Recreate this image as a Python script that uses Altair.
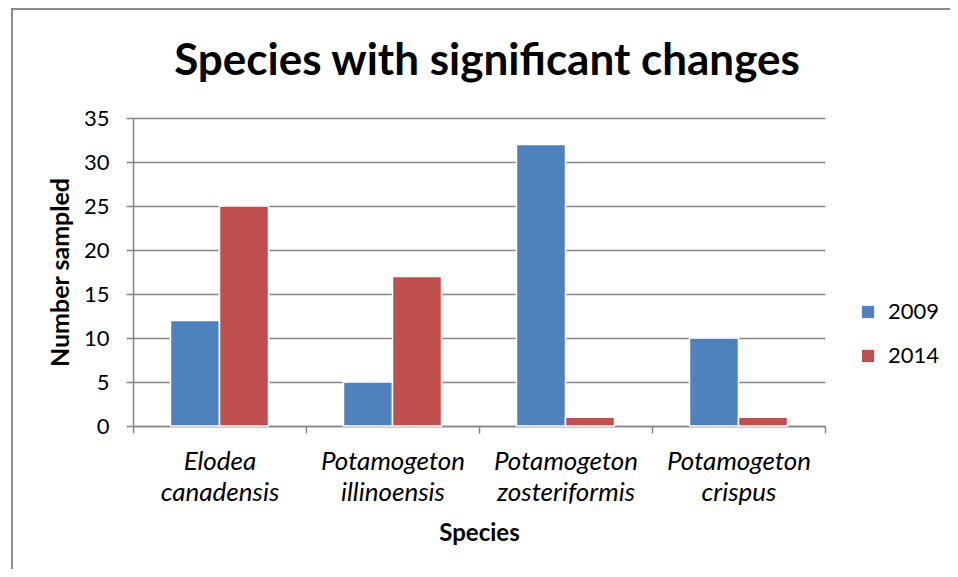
import altair as alt
import pandas as pd

species = ["Elodea canadensis", "Potamogeton illinoensis", "Potamogeton zosteriformis", "Potamogeton crispus"]
years = ["2009", "2014"]
v2009 = [12, 5, 32, 10]
v2014 = [25, 17, 1, 1]
y_ticks = [0, 5, 10, 15, 20, 25, 30, 35]
colors = ["#4F81BD", "#C0504D"]

rows = []
for s, a, b in zip(species, v2009, v2014):
    rows.append({"species": s, "year": "2009", "value": a})
    rows.append({"species": s, "year": "2014", "value": b})
df = pd.DataFrame(rows)

W, H = 692, 308
FONT = "Lato"

bars = alt.Chart(df).mark_bar(stroke="white", strokeWidth=1.5).encode(
    x=alt.X("species:N", sort=species,
            scale=alt.Scale(paddingInner=0, paddingOuter=0),
            axis=alt.Axis(title="Species", labelAngle=0,
                          labelExpr="split(datum.label, ' ')",
                          tickBand="extent", tickSize=7, tickColor="#868686",
                          domainColor="#868686", domainWidth=1.5, tickWidth=1.5,
                          labelFont=FONT, labelFontSize=26, labelFontStyle="italic",
                          labelColor="black", labelLineHeight=31, labelPadding=15,
                          titleFont=FONT, titleFontSize=24, titleFontWeight="bold",
                          titleColor="black", titlePadding=16)),
    xOffset=alt.XOffset("year:N", sort=years,
                        scale=alt.Scale(paddingInner=0, paddingOuter=0.765)),
    y=alt.Y("value:Q", scale=alt.Scale(domain=[0, 35]),
            axis=alt.Axis(title="Number sampled", values=y_ticks,
                          grid=True, gridColor="#868686", gridWidth=1.5,
                          domainColor="#868686", domainWidth=1.5,
                          tickColor="#868686", tickSize=7, tickWidth=1.5,
                          labelFont=FONT, labelFontSize=22, labelColor="black",
                          labelPadding=17,
                          titleFont=FONT, titleFontSize=25, titleFontWeight="bold",
                          titleColor="black", titlePadding=10)),
    color=alt.Color("year:N", sort=years,
                    scale=alt.Scale(domain=years, range=colors),
                    legend=alt.Legend(title=None, orient="none", legendX=724, legendY=183,
                                      symbolType="square", symbolSize=150,
                                      symbolStrokeWidth=0,
                                      labelFont=FONT, labelFontSize=22, labelColor="black",
                                      rowPadding=22, labelOffset=9)),
)

frame = alt.Chart(df).mark_rect(fill=None, stroke="#8c8c8c", strokeWidth=2).encode(
    x=alt.value(-121), x2=alt.value(W + 300),
    y=alt.value(-109), y2=alt.value(H + 300),
)

chart = alt.layer(frame, bars).properties(
    width=W, height=H,
    title=alt.Title("Species with significant changes", font=FONT, fontSize=44,
                    fontWeight="bold", color="black", anchor="middle", dx=8, offset=-76),
    autosize=alt.AutoSizeParams(type="none"),
    padding={"left": 125, "top": 110, "right": 125, "bottom": 143},
).configure_view(stroke=None)

chart.save("out.html", embed_options={"renderer": "svg", "actions": False})
